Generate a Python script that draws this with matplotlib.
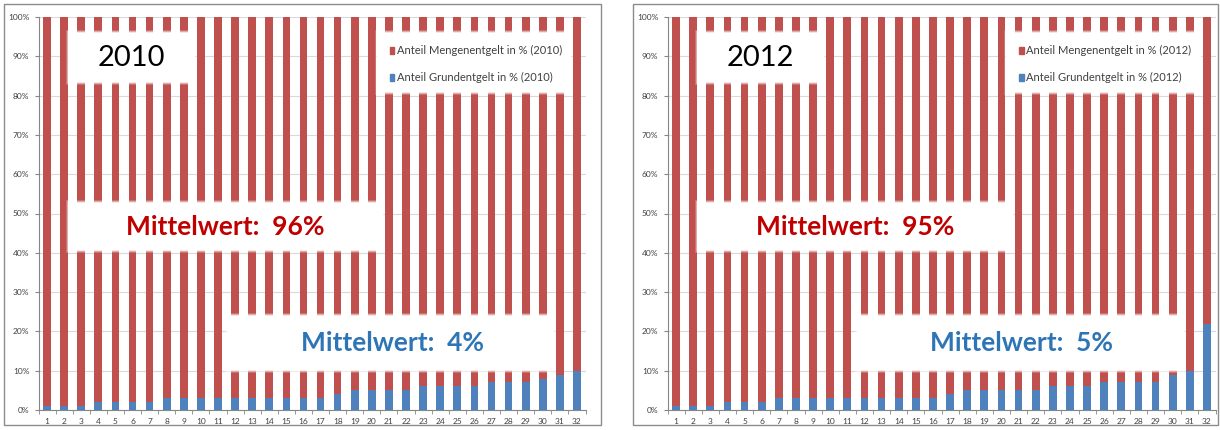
import numpy as np
import matplotlib
matplotlib.use("Agg")
import matplotlib.pyplot as plt
from matplotlib.patches import Rectangle

plt.rcParams["font.family"] = ["Lato", "DejaVu Sans"]

# Daten: Anteil Grundentgelt in % je Versorger (1..32)
nr = np.arange(1, 33)
grund_2010 = [1, 1, 1, 2, 2, 2, 2, 3, 3, 3, 3, 3, 3, 3, 3, 3,
              3, 4, 5, 5, 5, 5, 6, 6, 6, 6, 7, 7, 7, 8, 9, 10]
grund_2012 = [1, 1, 1, 2, 2, 2, 3, 3, 3, 3, 3, 3, 3, 3, 3, 3,
              4, 5, 5, 5, 5, 5, 6, 6, 6, 7, 7, 7, 7, 9, 10, 22]
menge_2010 = [100 - g for g in grund_2010]
menge_2012 = [100 - g for g in grund_2012]
mittel_menge = {"2010": "96%", "2012": "95%"}
mittel_grund = {"2010": "4%", "2012": "5%"}

ROT, BLAU = "#C0504D", "#4F81BD"
W, H = 1220, 430
fig = plt.figure(figsize=(W / 100, H / 100), dpi=100)

PX_X, PX_Y = 1 / 17.1, 1 / 3.93  # ein Pixel in Dateneinheiten


def weiss_box(ax, x0, x1, y0, y1):
    # weisse Box mit weichem Rand
    for k, a in [(3, 0.2), (2, 0.4), (1, 0.7), (0, 1.0)]:
        ax.add_patch(Rectangle((x0 - k * PX_X, y0 - k * PX_Y),
                               x1 - x0 + 2 * k * PX_X, y1 - y0 + 2 * k * PX_Y,
                               facecolor="white", edgecolor="none", alpha=a, zorder=5))


def panel(left_px, right_px, frame, jahr, grund, menge):
    fig.add_artist(Rectangle((frame[0] / W, 1 - frame[3] / H), (frame[2] - frame[0]) / W,
                             (frame[3] - frame[1]) / H, transform=fig.transFigure,
                             fill=False, edgecolor="#8c8c8c", lw=1.0))
    ax = fig.add_axes([left_px / W, 20 / H, (right_px - left_px) / W, 393 / H])
    ax.bar(nr, grund, width=0.45, color=BLAU, zorder=3)
    ax.bar(nr, menge, width=0.45, bottom=grund, color=ROT, zorder=3)
    ax.set_xlim(0.5, 32.5)
    ax.set_ylim(0, 100)
    ax.set_yticks(range(0, 101, 10))
    ax.set_yticklabels([f"{v}%" for v in range(0, 101, 10)])
    ax.set_xticks(nr)
    ax.set_xticks(np.arange(0.5, 33, 1), minor=True)
    ax.tick_params(axis="x", which="major", length=0, labelsize=6, pad=6, colors="#404040")
    ax.tick_params(axis="x", which="minor", length=3, color="#868686", direction="out")
    ax.tick_params(axis="y", length=3, labelsize=6, colors="#404040", color="#868686")
    ax.grid(axis="y", color="#d9d9d9", lw=0.8, zorder=0)
    ax.set_axisbelow(True)
    for s in ("top", "right"):
        ax.spines[s].set_visible(False)
    for s in ("left", "bottom"):
        ax.spines[s].set_color("#868686")

    # Jahr
    weiss_box(ax, 2.3, 9.6, 83.5, 96)
    ax.text(5.95, 89.5, jahr, fontsize=21, color="black", ha="center", va="center", zorder=6)
    # Legende
    weiss_box(ax, 20.35, 31.6, 81, 96)
    for y, c, t in [(91.5, ROT, f"Anteil Mengenentgelt in % ({jahr})"),
                    (84.6, BLAU, f"Anteil Grundentgelt in % ({jahr})")]:
        ax.add_patch(Rectangle((21.05, y - 0.9), 0.25, 1.8, color=c, zorder=6))
        ax.text(21.45, y, t, fontsize=8, color="#404040", va="center", zorder=6)
    # Mittelwerte
    weiss_box(ax, 2.3, 20.6, 40.8, 52.7)
    ax.text(11.45, 46.5, f"Mittelwert:  {mittel_menge[jahr]}", fontsize=19, fontweight="bold",
            color="#C00000", ha="center", va="center", zorder=6)
    weiss_box(ax, 11.6, 30.6, 10.2, 23.9)
    ax.text(21.2, 17.0, f"Mittelwert:  {mittel_grund[jahr]}", fontsize=19, fontweight="bold",
            color="#2E75B6", ha="center", va="center", zorder=6)
    return ax


panel(38.5, 585.5, (4, 4, 601, 425), "2010", grund_2010, menge_2010)
panel(667.5, 1215.5, (633, 4, 1218, 425), "2012", grund_2012, menge_2012)

fig.savefig("out.png", dpi=100)
